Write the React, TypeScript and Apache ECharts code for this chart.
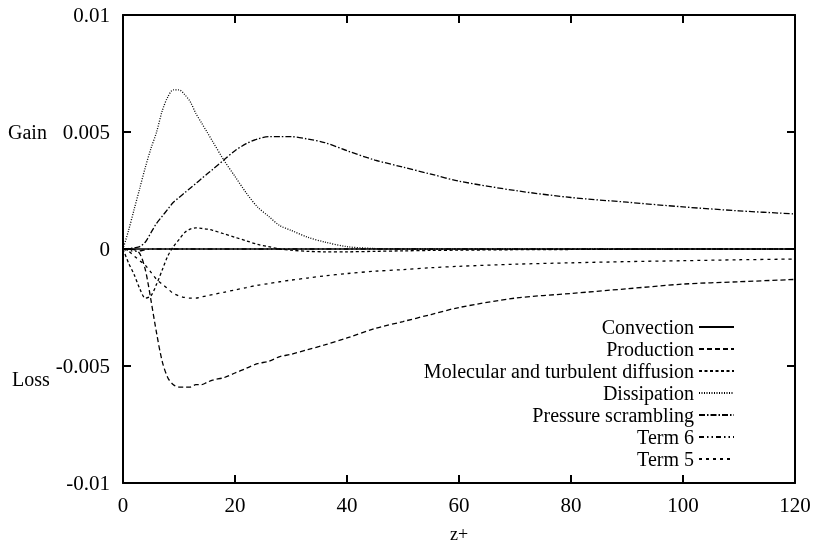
import React, { useEffect, useRef } from "react";
import * as echarts from "echarts";

const zPlus = [0, 1, 2, 3, 4, 5, 6, 7, 8, 9, 10, 11, 12, 13, 14, 15, 16, 18, 20, 22, 24, 26, 28, 30, 33, 36, 40, 45, 50, 55, 60, 70, 80, 90, 100, 110, 120];

const convection = [0, 0, 0, 0, 0, 0, 0, 0, 0, 0, 0, 0, 0, 0, 0, 0, 0, 0, 0, 0, 0, 0, 0, 0, 0, 0, 0, 0, 0, 0, 0, 0, 0, 0, 0, 0, 0];
const production = [0, 0, -0.00003, -0.0002, -0.0009, -0.0022, -0.0036, -0.0048, -0.0055, -0.0058, -0.0059, -0.0059, -0.0059, -0.0058, -0.0058, -0.0057, -0.0056, -0.0055, -0.0053, -0.0051, -0.0049, -0.0048, -0.0046, -0.0045, -0.0043, -0.0041, -0.0038, -0.0034, -0.0031, -0.0028, -0.0025, -0.0021, -0.0019, -0.0017, -0.0015, -0.0014, -0.0013];
const diffusion = [0, -0.0006, -0.0011, -0.0017, -0.0021, -0.002, -0.0015, -0.0009, -0.0003, 0.0001, 0.0004, 0.0007, 0.00085, 0.0009, 0.00088, 0.00085, 0.0008, 0.00065, 0.0005, 0.00035, 0.0002, 0.0001, 0, -0.00005, -0.0001, -0.00012, -0.00012, -0.0001, -0.00008, -0.00006, -0.00005, -0.00003, -0.00002, -0.00001, 0, 0, 0];
const dissipation = [0, 0.0008, 0.0017, 0.0026, 0.0035, 0.0043, 0.005, 0.0059, 0.0065, 0.0068, 0.0068, 0.0066, 0.0063, 0.0058, 0.0054, 0.005, 0.0046, 0.0038, 0.0031, 0.0024, 0.0018, 0.0014, 0.001, 0.0008, 0.0005, 0.0003, 0.0001, 0.00002, 0, 0, 0, 0, 0, 0, 0, 0, 0];
const pressureScrambling = [0, 0.00002, 0.00005, 0.0001, 0.0003, 0.0007, 0.0011, 0.0014, 0.0017, 0.002, 0.0022, 0.0024, 0.0026, 0.0028, 0.003, 0.0032, 0.0034, 0.0038, 0.0042, 0.0045, 0.0047, 0.0048, 0.0048, 0.0048, 0.0047, 0.00455, 0.0042, 0.0038, 0.0035, 0.0032, 0.0029, 0.0025, 0.0022, 0.002, 0.0018, 0.00163, 0.0015];
const term6 = [0, -0.00005, -0.0001, -0.00008, -0.00003, 0, 0, 0, 0, 0, 0, 0, 0, 0, 0, 0, 0, 0, 0, 0, 0, 0, 0, 0, 0, 0, 0, 0, 0, 0, 0, 0, 0, 0, 0, 0, 0];
const term5 = [0, -0.0001, -0.0003, -0.0005, -0.0007, -0.001, -0.0013, -0.0015, -0.0017, -0.0019, -0.002, -0.00207, -0.0021, -0.0021, -0.00205, -0.002, -0.00195, -0.00185, -0.00175, -0.00165, -0.00155, -0.00148, -0.0014, -0.00133, -0.00124, -0.00115, -0.00105, -0.00095, -0.00088, -0.0008, -0.00074, -0.00065, -0.00059, -0.00054, -0.0005, -0.00046, -0.00043];

const seriesNames = ["Convection", "Production", "Molecular and turbulent diffusion", "Dissipation", "Pressure scrambling", "Term 6", "Term 5"];
const seriesValues = [convection, production, diffusion, dissipation, pressureScrambling, term6, term5];
const dashTypes: any[] = ["solid", [5, 3], [3, 2.5], [1, 1.5], [6, 2, 1.5, 2], [5, 3, 1.5, 3, 1.5, 3], [3, 4]];

const xTicks = [0, 20, 40, 60, 80, 100, 120];
const yTicks = [-0.01, -0.005, 0, 0.005, 0.01];

const FONT = "Liberation Serif";

function axisLine() {
  return { show: true, onZero: false, lineStyle: { color: "#000", width: 2 } };
}
function tickIn() {
  return { show: true, inside: true, length: 8, lineStyle: { color: "#000", width: 2 } };
}

export default function App() {
  const ref = useRef<HTMLDivElement>(null);
  useEffect(() => {
    if (!ref.current) return;
    const chart = echarts.init(ref.current, undefined, { renderer: "svg" });
    chart.setOption({
      animation: false,
      grid: { left: 123, right: 20, top: 15, bottom: 56 },
      xAxis: [
        {
          type: "value",
          min: xTicks[0],
          max: xTicks[xTicks.length - 1],
          interval: 20,
          axisLine: axisLine(),
          axisTick: tickIn(),
          splitLine: { show: false },
          axisLabel: { fontSize: 21, color: "#000", fontFamily: FONT, margin: 11 },
          name: "z+",
          nameLocation: "middle",
          nameGap: 42,
          nameTextStyle: { fontSize: 18, color: "#000", fontFamily: FONT },
        },
        {
          type: "value",
          min: xTicks[0],
          max: xTicks[xTicks.length - 1],
          interval: 20,
          position: "top",
          axisLine: axisLine(),
          axisTick: tickIn(),
          splitLine: { show: false },
          axisLabel: { show: false },
        },
      ],
      yAxis: [
        {
          type: "value",
          min: yTicks[0],
          max: yTicks[yTicks.length - 1],
          interval: 0.005,
          axisLine: axisLine(),
          axisTick: tickIn(),
          splitLine: { show: false },
          axisLabel: {
            fontSize: 21,
            color: "#000",
            fontFamily: FONT,
            margin: 13,
            formatter: (v: number) => String(+v.toFixed(3)),
          },
        },
        {
          type: "value",
          min: yTicks[0],
          max: yTicks[yTicks.length - 1],
          interval: 0.005,
          position: "right",
          axisLine: axisLine(),
          axisTick: tickIn(),
          splitLine: { show: false },
          axisLabel: { show: false },
        },
      ],
      legend: {
        orient: "vertical",
        right: 75,
        top: 312,
        align: "right",
        itemWidth: 35,
        itemHeight: 12,
        itemGap: 2,
        itemStyle: { opacity: 0 },
        textStyle: { fontSize: 20, color: "#000", fontFamily: FONT },
        data: seriesNames,
      },
      graphic: [
        { type: "text", left: 8, top: 122, style: { text: "Gain", fontSize: 20, fontFamily: FONT, fill: "#000" } },
        { type: "text", left: 12, top: 369, style: { text: "Loss", fontSize: 20, fontFamily: FONT, fill: "#000" } },
      ],
      series: seriesNames.map((name, i) => ({
        name,
        type: "line",
        xAxisIndex: 0,
        yAxisIndex: 0,
        smooth: 0.3,
        symbol: "none",
        showSymbol: false,
        lineStyle: { color: "#000", width: i === 0 ? 1.6 : 1.3, type: dashTypes[i] },
        data: zPlus.map((z, k) => [z, seriesValues[i][k]]),
      })),
    });
    return () => chart.dispose();
  }, []);
  return <div ref={ref} style={{ position: "fixed", left: 0, top: 0, width: 815, height: 548 }} />;
}
